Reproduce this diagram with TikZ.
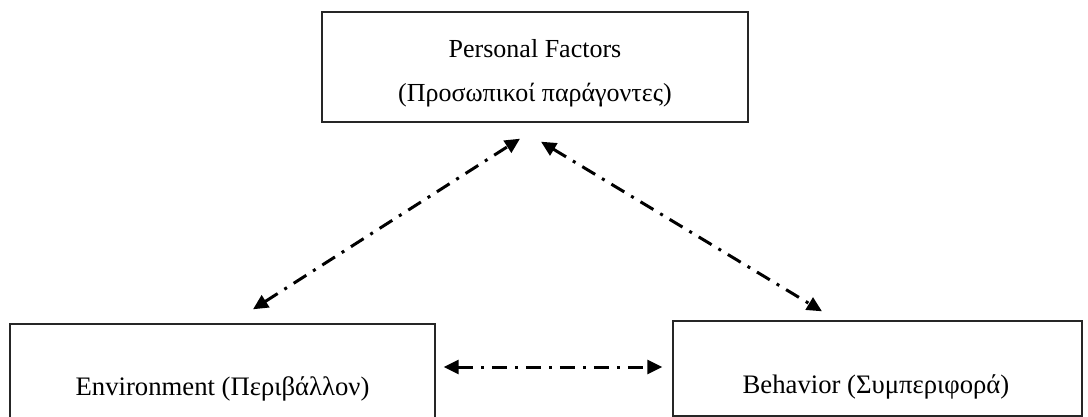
\documentclass[tikz,border=0pt]{standalone}
\usepackage{fontspec}
\setmainfont{Liberation Serif}
\usetikzlibrary{arrows.meta,calc}

\tikzset{
  box/.style={draw=black!85, line width=1.4pt, inner sep=0pt},
  lbl/.style={font=\fontsize{26}{30}\selectfont, inner sep=0pt, anchor=base},
  blbl/.style={lbl, font=\fontsize{26.7}{30}\selectfont},
  link/.style={line width=3pt, dash pattern=on 15pt off 8pt on 3pt off 8pt,
    {Triangle[length=15pt,width=14pt]}-{Triangle[length=15pt,width=14pt]}}
}

\begin{document}
\begin{tikzpicture}[x=1pt,y=-1pt]
  \useasboundingbox (0,0) rectangle (1088,417);
  \clip (0,0) rectangle (1088,417);

  % the three factors
  \node[box, minimum width=426pt, minimum height=110pt] (personal) at (535,67) {};
  \node[box, minimum width=425pt, minimum height=100pt] (env) at (222.5,374) {};
  \node[box, minimum width=409pt, minimum height=95pt] (beh) at (877.5,368.5) {};

  % their labels
  \node[lbl] (ptitle) at (535,57.5) {Personal Factors};
  \node[lbl] (pgreek) at (535,102) {(Προσωπικοί παράγοντες)};
  \node[blbl] (etext) at (222.5,395) {Environment (Περιβάλλον)};
  \node[blbl] (btext) at (876,393) {Behavior (Συμπεριφορά)};

  % reciprocal influences
  \draw[link] ($(env.north)+(30.5,-14)$) -- ($(personal.south)+(-15,16)$);
  \draw[link] ($(personal.south)+(6,19)$) -- ($(beh.north)+(-55.5,-9)$);
  \draw[link] ($(env.east)+(8,-7)$) -- ($(beh.west)+(-10,-1.5)$);
\end{tikzpicture}
\end{document}
